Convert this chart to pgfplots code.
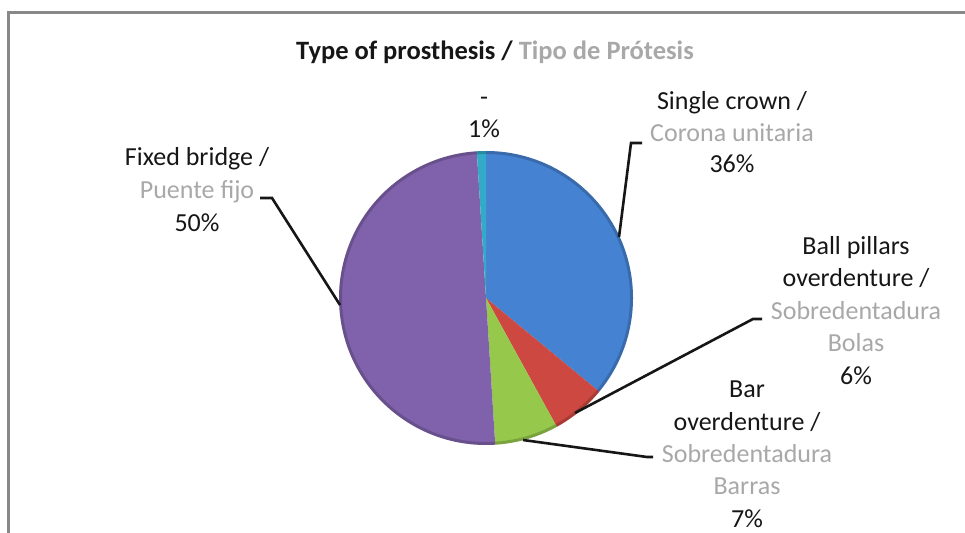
\documentclass[border=0pt]{standalone}
\usepackage{fontspec}
\setmainfont{Carlito}
\usepackage{pgfplots}
\usepackage{pgfplotstable}
\pgfplotsset{compat=1.18}
\definecolor{sl0}{RGB}{70,130,210}
\definecolor{sl1}{RGB}{205,72,64}
\definecolor{sl2}{RGB}{150,200,75}
\definecolor{sl3}{RGB}{128,98,172}
\definecolor{sl4}{RGB}{50,170,200}
\definecolor{lblgray}{RGB}{168,168,168}
\definecolor{lblblack}{RGB}{22,22,22}
\definecolor{framegray}{RGB}{136,136,136}
\pgfplotstableread{
idx value
0 36
1 6
2 7
3 50
4 1
}\piedata
\newcommand\lbl[4]{\node[anchor=base, inner sep=0pt, text=#3, font=\fontsize{26}{31}\selectfont] at (#1,532-#2) {#4};}
\begin{document}
\begin{tikzpicture}[x=1pt,y=1pt]
\useasboundingbox (0,0) rectangle (965,532);
\begin{scope}
\clip (0,0) rectangle (965,532);
\draw[line width=3pt, framegray] (8.5,-10) -- (8.5,519.5) -- (980,519.5);
\end{scope}
\begin{axis}[at={(486pt,234pt)}, anchor=center, scale only axis, width=294pt, height=294pt,
  xmin=-1, xmax=1, ymin=-1, ymax=1, hide axis, clip=false]
\pgfplotstablegetrowsof{\piedata}
\pgfmathtruncatemacro\N{\pgfplotsretval-1}
\def\cum{0}
\pgfplotsforeachungrouped \i in {0,...,\N}{%
  \pgfplotstablegetelem{\i}{value}\of\piedata
  \let\sval\pgfplotsretval
  \pgfmathsetmacro\sa{90-3.6*\cum}
  \pgfmathsetmacro\sb{90-3.6*(\cum+\sval)}
  \pgfmathsetmacro\cum{\cum+\sval}
  \edef\cmd{\noexpand\fill[sl\i] (axis cs:0,0) -- (axis cs:{cos(\sa)},{sin(\sa)}) arc[start angle=\sa, end angle=\sb, radius=147pt] -- cycle;}
  \cmd
}
\draw[black, opacity=0.18, line width=3pt] (axis cs:0,0) circle[radius=145.5pt];
\end{axis}
% title
\node[anchor=base, inner sep=0pt, font=\fontsize{26.5}{31}\selectfont\bfseries] at (495,532-60)
  {\textcolor{lblblack}{Type of prosthesis /} \textcolor{lblgray}{Tipo de Prótesis}};
% leader lines
\draw[line width=2.6pt, lblblack] (642,389) -- (631,389) -- (619,295);
\draw[line width=2.6pt, lblblack] (762,213) -- (753,213) -- (575,119);
\draw[line width=2.6pt, lblblack] (523,92) -- (647,75) -- (653,75);
\draw[line width=2.6pt, lblblack] (260,334) -- (272,334) -- (340,227);
% labels
\lbl{484}{106}{lblblack}{-}
\lbl{484}{138}{lblblack}{1\%}
\lbl{732}{110}{lblblack}{Single crown /}
\lbl{732}{141.5}{lblgray}{Corona unitaria}
\lbl{732}{173}{lblblack}{36\%}
\lbl{197}{166}{lblblack}{Fixed bridge /}
\lbl{197}{199}{lblgray}{Puente fijo}
\lbl{197}{232}{lblblack}{50\%}
\lbl{856}{255}{lblblack}{Ball pillars}
\lbl{856}{287}{lblblack}{overdenture /}
\lbl{856}{320}{lblgray}{Sobredentadura}
\lbl{856}{352}{lblgray}{Bolas}
\lbl{856}{385}{lblblack}{6\%}
\lbl{747}{398}{lblblack}{Bar}
\lbl{747}{430.5}{lblblack}{overdenture /}
\lbl{747}{463}{lblgray}{Sobredentadura}
\lbl{747}{495}{lblgray}{Barras}
\lbl{747}{527}{lblblack}{7\%}
\end{tikzpicture}
\end{document}
